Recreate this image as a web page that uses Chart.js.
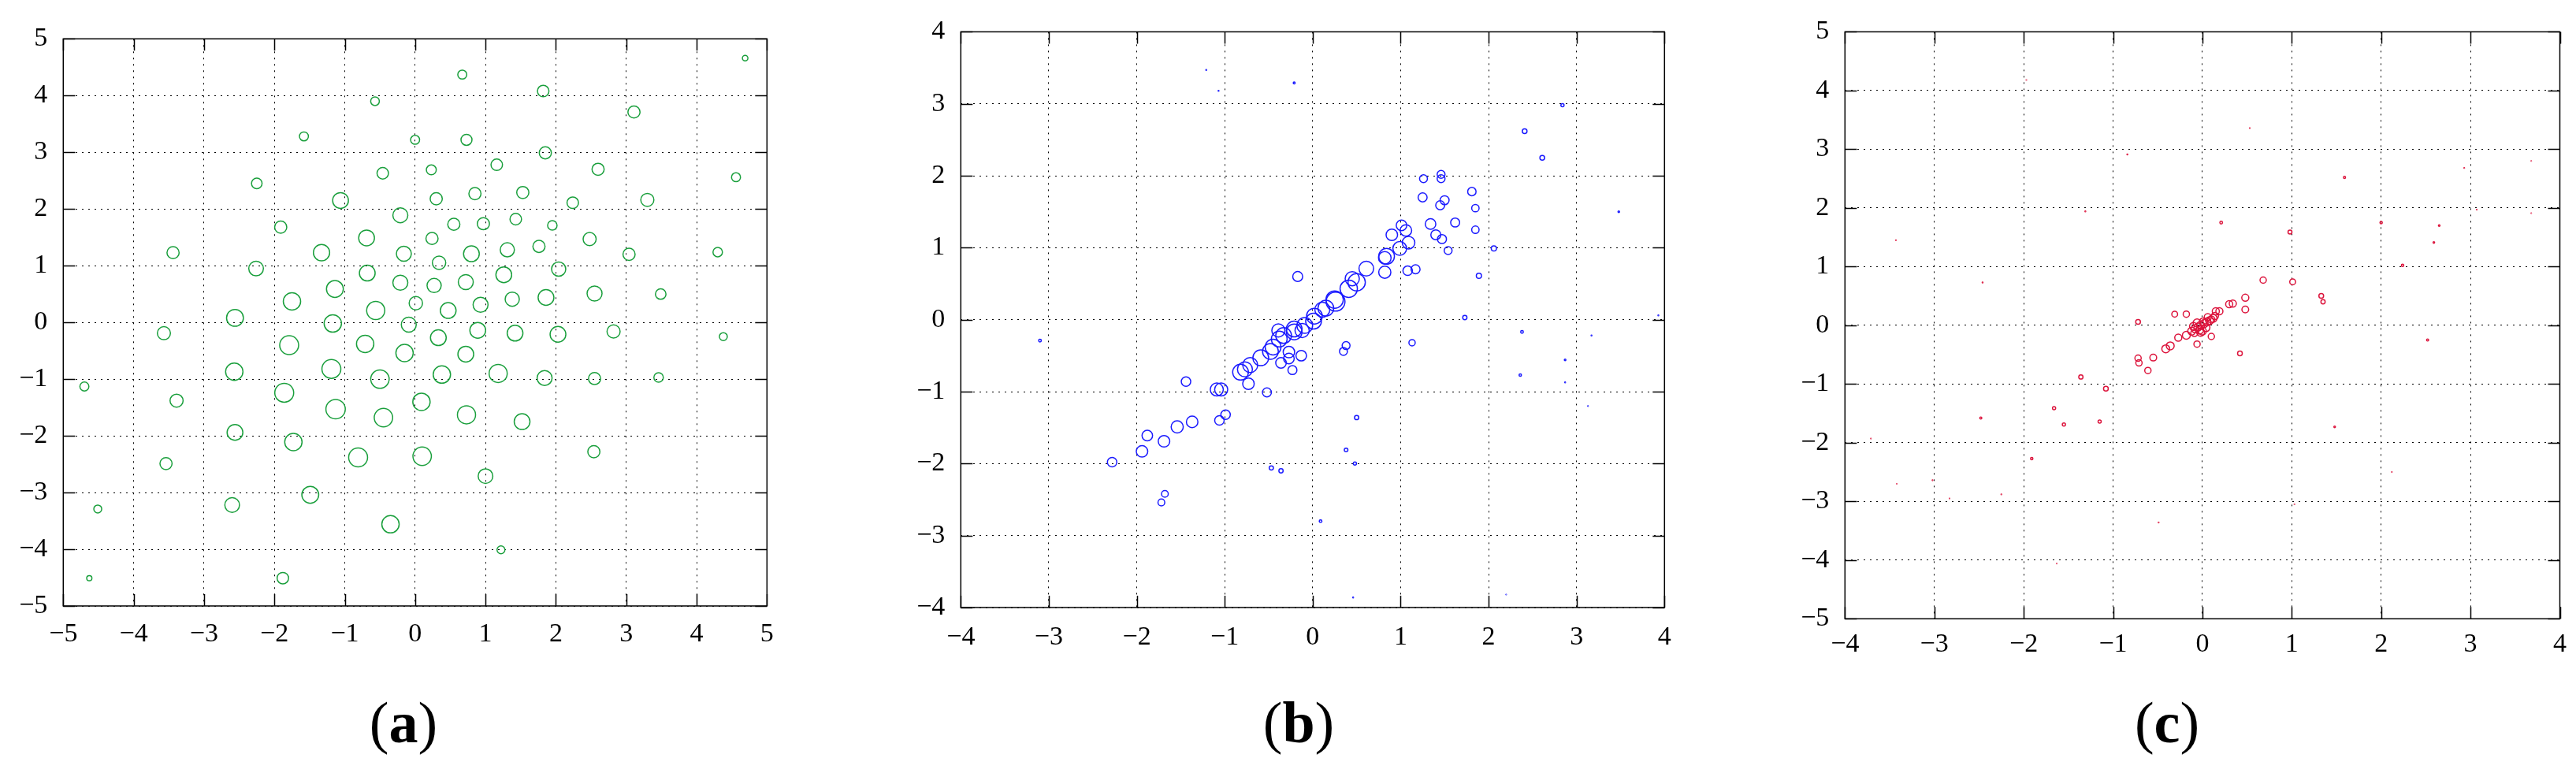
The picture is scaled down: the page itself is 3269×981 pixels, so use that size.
<!DOCTYPE html>
<html><head><meta charset="utf-8">
<script src="https://cdn.jsdelivr.net/npm/chart.js@4/dist/chart.umd.min.js"></script>
<style>
html,body{margin:0;padding:0;background:#fff;width:3269px;height:981px;overflow:hidden}
canvas{position:absolute;top:0}
.cap{position:absolute;font-family:"Liberation Serif",serif;font-size:74px;color:#000;transform:translate(-50%,-50%);white-space:nowrap}
</style></head><body>
<canvas id="ca" width="1000" height="860" style="left:0px"></canvas>
<canvas id="cb" width="1010" height="860" style="left:1130px"></canvas>
<canvas id="cc" width="1019" height="860" style="left:2250px"></canvas>
<div class="cap" style="left:512px;top:917px">(<b>a</b>)</div>
<div class="cap" style="left:1648px;top:917px">(<b>b</b>)</div>
<div class="cap" style="left:2750px;top:917px">(<b>c</b>)</div>
<script>
// ---------- Panel (a) ----------
const aX = [-0.57,-1.58,0.00,-0.46,-2.25,-1.06,-0.21,-1.91,-0.69,-3.44,-1.33,-0.16,-2.26,-0.68,-0.21,-1.14,-1.75,0.01,-0.56,-2.56,-1.17,-0.09,-3.57,-1.79,-0.71,-0.15,-2.57,-1.19,-0.50,-4.70,-1.86,-3.39,0.09,-1.13,-0.45,-2.56,-1.73,-0.81,0.10,-3.54,-1.49,-2.60,-4.51,-0.35,-4.63,-1.88,0.47,0.33,0.89,1.42,2.03,2.82,4.38,0.72,0.38,1.18,1.84,2.55,3.46,0.73,1.52,2.54,1.00,1.22,4.69,0.67,1.82,3.11,0.73,1.85,0.23,1.16,2.60,4.56,0.30,0.85,1.53,2.24,3.30,0.55,0.97,1.43,1.95,0.24,2.48,0.80,1.31,1.76,3.04,4.30,0.34,2.04,0.27,0.72,1.26,0.93,1.38,1.86,2.55,3.49];
const aY = [3.90,3.28,3.22,2.63,2.45,2.15,1.89,1.68,1.49,1.23,1.23,1.21,0.95,0.87,0.70,0.59,0.37,0.34,0.21,0.08,-0.02,-0.04,-0.19,-0.40,-0.38,-0.54,-0.87,-0.82,-1.00,-1.13,-1.24,-1.38,-1.40,-1.53,-1.68,-1.94,-2.11,-2.38,-2.36,-2.49,-3.04,-3.22,-3.29,-3.56,-4.51,-4.51,0.21,-0.27,-0.14,-0.19,-0.21,-0.16,-0.25,-0.56,-0.92,-0.90,-0.98,-0.99,-0.97,-1.63,-1.75,-2.28,-2.71,-4.01,4.66,4.37,4.08,3.71,3.22,2.99,2.69,2.78,2.70,2.56,2.18,2.27,2.29,2.11,2.16,1.73,1.74,1.82,1.71,1.48,1.47,1.21,1.28,1.34,1.20,1.24,1.05,0.94,0.65,0.71,0.84,0.31,0.41,0.44,0.51,0.50];
const aR = [5.5,5.7,5.7,7.3,6.7,10,9.5,7.7,10,7.7,10.3,9.5,9.3,10,9.5,10.7,11,8.5,11.5,10.7,11,9.5,8.3,12,11,11,11,12,11.7,5.7,12,8.3,11,12.3,11.7,10,11,12,11.7,7.7,10.7,9.3,5,11,3.3,7.3,10,10,10,10,10,8.3,5,10,11,11.5,9.5,7.7,6,11.5,10,7.7,9.3,5,3.5,5.7,7.3,7.7,7,7.7,6.3,7.3,7.7,5.7,7.7,7.7,7.7,7.3,8.3,7.7,7.7,7.3,6,7.7,8.3,10,9,7.7,7.7,6,8.5,9,9,9.5,10,9.5,9,10,9.5,6.7];
const aTicksX = [-5,-4,-3,-2,-1,0,1,2,3,4,5];
const aTicksY = [-5,-4,-3,-2,-1,0,1,2,3,4,5];

// ---------- Panel (b) ----------
const bX = [-1.21,-1.07,-0.21,-0.17,2.84,2.41,2.61,1.26,1.46,1.46,1.25,1.81,1.50,1.45,1.85,1.62,1.34,1.85,3.48,1.01,1.06,0.90,1.40,1.47,1.09,0.99,1.54,2.06,0.84,0.82,0.61,0.82,1.08,1.17,1.89,0.45,0.50,0.41,0.25,0.26,0.15,0.11,0.02,1.73,3.93,-0.09,-0.21,-0.12,0.01,2.38,3.17,1.13,0.38,0.35,-0.13,-0.23,-0.27,2.87,2.36,2.87,3.13,0.50,0.38,0.48,0.09,0.46,2.20,-3.10,-1.44,-1.09,-1.04,-0.52,-0.99,-1.06,-1.37,-1.54,-1.88,-1.69,-1.94,-2.28,-0.47,-0.36,-1.68,-1.72,-0.73,-0.82,-0.77,-0.71,-0.59,-0.48,-0.45,-0.36,-0.27,-0.38,-0.33,-0.39,-0.21];
const bY = [3.47,3.18,3.29,0.60,2.98,2.62,2.25,1.96,2.02,1.96,1.70,1.78,1.66,1.59,1.55,1.35,1.33,1.25,1.50,1.31,1.24,1.18,1.18,1.12,1.07,0.99,0.96,0.99,0.88,0.86,0.71,0.66,0.68,0.70,0.61,0.57,0.52,0.43,0.28,0.25,0.16,0.14,0.05,0.03,0.06,-0.08,-0.13,-0.15,-0.02,-0.17,-0.22,-0.32,-0.36,-0.44,-0.50,-0.70,-0.54,-0.56,-0.77,-0.87,-1.20,-1.36,-1.81,-2.00,-2.80,-3.86,-3.82,-0.29,-0.86,-0.97,-0.97,-1.01,-1.32,-1.40,-1.42,-1.49,-1.61,-1.69,-1.83,-1.98,-2.06,-2.10,-2.42,-2.54,-0.89,-0.73,-0.69,-0.63,-0.53,-0.44,-0.38,-0.60,-0.45,-0.27,-0.22,-0.15,-0.17];
const bR = [0.5,0.5,1.2,6.3,2,3,3,5,5,5,5.7,5.3,5.7,5.7,4.7,5.7,6.7,4.7,1,6.7,7.3,7.3,6.3,5.7,8,8.7,5,3.3,10,8,9.3,7.7,6,5.7,3.3,9,11,11,11,12,10,9.5,10,2.7,0.5,10,10,9,10,1.7,0.5,4,5,5,6.7,5.7,6.7,1,1.5,0.5,0.4,2.7,2.3,2,1.7,0.5,0.3,1.7,6,8.3,8.3,5.7,6,6,7.3,7.7,6.7,7.3,7.3,6,2.7,2.7,4.3,4.3,7.3,10,9.5,9.5,10,10,10,6.7,7.3,10,10,8.3,10];
const bTicksX = [-4,-3,-2,-1,0,1,2,3,4];
const bTicksY = [-4,-3,-2,-1,0,1,2,3,4];

// ---------- Panel (c) ----------
const cX = [-1.97,-0.84,-1.31,-3.43,-2.46,-0.72,-0.31,0.53,1.59,2.93,3.68,3.07,3.68,0.21,0.98,2.00,2.65,2.59,2.24,0.68,1.01,1.33,1.35,0.48,0.48,0.34,0.30,0.19,0.15,-0.18,0.10,-0.02,0.02,-0.05,0.05,-0.08,0.08,-0.03,0.00,-0.10,0.04,0.12,-0.06,0.06,-0.12,0.01,-0.02,0.14,-0.09,-0.27,-0.41,-0.36,-0.55,-0.72,-0.71,-0.61,-1.36,-1.08,-1.66,-1.55,-1.15,-2.48,-1.91,-3.71,-3.42,-3.02,-2.83,-2.25,-0.49,-1.63,-0.18,-0.06,0.10,0.42,2.52,1.48,2.12,1.03];
const cY = [4.18,2.91,1.94,1.45,0.73,0.06,0.19,3.36,2.52,2.68,2.80,1.97,1.91,1.75,1.59,1.75,1.70,1.41,1.02,0.77,0.74,0.50,0.40,0.47,0.27,0.37,0.36,0.24,0.24,0.19,0.10,0.00,0.03,-0.03,0.06,-0.06,0.08,-0.08,-0.10,-0.02,-0.04,0.12,0.04,0.14,-0.10,0.06,-0.12,0.16,-0.13,-0.21,-0.40,-0.35,-0.55,-0.56,-0.64,-0.77,-0.88,-1.08,-1.41,-1.69,-1.64,-1.58,-2.27,-1.93,-2.70,-2.64,-2.95,-2.88,-3.36,-4.06,-0.17,-0.32,-0.19,-0.48,-0.25,-1.73,-2.50,-3.05];
const cR = [0.3,0.5,0.5,0.4,0.5,3,3.7,0.4,1.3,0.4,0.3,0.4,0.3,1.7,2.5,1.5,1,1,1.5,4,3.7,3,2.7,4.5,4.3,4.5,4.5,4.5,4.5,4,4.5,5,5,5,5,5,5,5,5,5,5,5,5,4.5,5,5,5,4.5,4.5,4.5,5,5,4.3,4,4,4,2.7,3,2,2,2,1.3,1.5,0.3,0.3,0.4,0.3,0.4,0.4,0.3,5,4,4,3,1.3,1,0.3,0.3];
const cTicksX = [-4,-3,-2,-1,0,1,2,3,4];
const cTicksY = [-5,-4,-3,-2,-1,0,1,2,3,4,5];

const FONT = {family:'"Liberation Serif", serif', size:34};
const fmt = v => (v < 0 ? '\u2212' + Math.abs(v) : String(v));

const frameTicks = {
  id: 'frameTicks',
  afterDatasetsDraw(chart) {
    const {ctx, chartArea: {left, right, top, bottom}, scales: {x, y}} = chart;
    const L = 15;
    ctx.save();
    ctx.strokeStyle = '#000';
    ctx.lineWidth = 1.5;
    ctx.beginPath();
    x.ticks.forEach(t => {
      const p = Math.round(x.getPixelForValue(t.value)) + 0.5;
      ctx.moveTo(p, bottom); ctx.lineTo(p, bottom - L);
      ctx.moveTo(p, top); ctx.lineTo(p, top + L);
    });
    y.ticks.forEach(t => {
      const p = Math.round(y.getPixelForValue(t.value)) + 0.5;
      ctx.moveTo(left, p); ctx.lineTo(left + L, p);
      ctx.moveTo(right, p); ctx.lineTo(right - L, p);
    });
    ctx.stroke();
    ctx.strokeRect(left, top, right - left, bottom - top);
    ctx.restore();
  }
};

function makeChart(id, xs, ys, rs, color, tx, ty, yW, xH, pad, xPad) {
  const data = xs.map((v, i) => ({x: v, y: ys[i], r: rs[i]}));
  return new Chart(document.getElementById(id), {
    type: 'bubble',
    data: {datasets: [{data, backgroundColor: 'rgba(0,0,0,0)', borderColor: color, borderWidth: 1.5, hoverBorderWidth: 1.5}]},
    options: {
      responsive: false, animation: false, devicePixelRatio: 1,
      layout: {padding: pad},
      plugins: {legend: {display: false}, tooltip: {enabled: false}},
      events: [],
      scales: {
        x: {
          type: 'linear', min: tx[0], max: tx[tx.length - 1],
          afterBuildTicks: s => { s.ticks = tx.map(v => ({value: v})); },
          afterFit: s => { s.height = xH; },
          grid: {color: '#000', lineWidth: 1, drawTicks: false},
          border: {display: false, dash: [2, 6]},
          ticks: {color: '#000', font: FONT, padding: xPad, maxRotation: 0, autoSkip: false, callback: fmt}
        },
        y: {
          type: 'linear', min: ty[0], max: ty[ty.length - 1],
          afterBuildTicks: s => { s.ticks = ty.map(v => ({value: v})); },
          afterFit: s => { s.width = yW; },
          grid: {color: '#000', lineWidth: 1, drawTicks: false},
          border: {display: false, dash: [2, 6]},
          ticks: {color: '#000', font: FONT, padding: 20, autoSkip: false, callback: fmt}
        }
      }
    },
    plugins: [frameTicks]
  });
}

makeChart('ca', aX, aY, aR, '#1a9f3c', aTicksX, aTicksY, 80.3, 91, {left: 0, right: 26.7, top: 49.3, bottom: 0}, 16);
makeChart('cb', bX, bY, bR, '#1a1aff', bTicksX, bTicksY, 89.3, 89, {left: 0, right: 27.7, top: 31.3, bottom: 0}, 18);
makeChart('cc', cX, cY, cR, '#dc143c', cTicksX, cTicksY, 91.3, 74.7, {left: 0, right: 19.7, top: 30.3, bottom: 0}, 12);
</script>
</body></html>
